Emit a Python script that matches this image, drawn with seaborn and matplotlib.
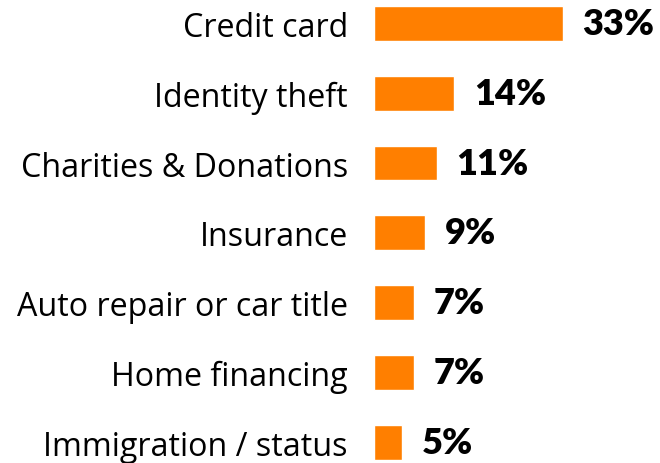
import matplotlib
matplotlib.use("Agg")
import matplotlib.pyplot as plt
import seaborn as sns
import pandas as pd

categories = ["Credit card", "Identity theft", "Charities & Donations", "Insurance",
              "Auto repair or car title", "Home financing", "Immigration / status"]
values = [33, 14, 11, 9, 7, 7, 5]
value_labels = ["33%", "14%", "11%", "9%", "7%", "7%", "5%"]

sns.set_theme(style="white")
plt.rcParams['font.family'] = ['Lato', 'DejaVu Sans']

df = pd.DataFrame({"category": categories, "value": values})

fig = plt.figure(figsize=(6.6, 4.64), dpi=100)
ax = fig.add_axes([373.5 / 660, 0, 1 - 373.5 / 660, 1])
sns.barplot(data=df, x="value", y="category", color="#FF7F00", saturation=1,
            width=0.5, ax=ax, orient="h")
ax.set_xlim(0, 50)
ax.set_ylim(6.30, -0.351)
ax.set_xlabel("")
ax.set_ylabel("")
ax.set_xticks([])
for s in ax.spines.values():
    s.set_visible(False)
ax.tick_params(axis="y", length=0, pad=18.4, labelsize=23.2, labelcolor="black")
for t in ax.get_yticklabels():
    t.set_fontfamily(['Open Sans', 'DejaVu Sans'])
ax.bar_label(ax.containers[0], labels=value_labels, padding=14.4,
             fontsize=26, fontweight="heavy", color="black")

fig.savefig("out.png", dpi=100)
